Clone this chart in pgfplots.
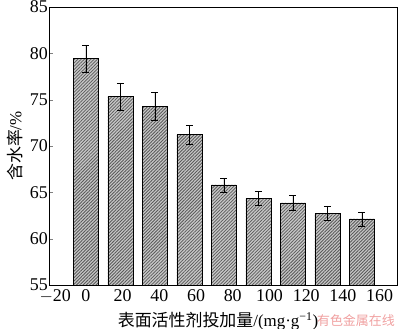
\documentclass[border=0pt]{standalone}
\usepackage{pgfplots}
\pgfplotsset{compat=1.18}
\usepackage{fontspec}
\setmainfont{Liberation Serif}
\newfontfamily\cjk{Noto Sans CJK SC}
\usetikzlibrary{patterns.meta}
\begin{document}
\begin{tikzpicture}
\begin{axis}[
  scale only axis,
  width=348bp, height=278bp,
  xmin=-21.4, xmax=180.3,
  ymin=55, ymax=85,
  ytick={55,60,...,85},
  xtick={-17.8,0,21.28,42.55,63.83,85.1,106.4,127.7,148.9,170.2},
  xticklabels={$-$20,0,20,40,60,80,100,120,140,160},
  x tick style={draw=none},
  ytick pos=left,
  tick align=inside,
  major tick length=4bp,
  tick label style={font=\fontsize{18}{18}\selectfont, inner xsep=1bp, inner ysep=0bp},
  xticklabel style={yshift=-4bp},
  /pgf/number format/assume math mode=true,
  xlabel={\fontsize{17}{20}\selectfont{\cjk 表面活性剂投加量}/(mg·g\textsuperscript{−1})},
  ylabel={\fontsize{17}{20}\selectfont{\cjk 含水率}/\%},
  xlabel style={at={(rel axis cs:0.5,0)}, anchor=center, yshift=-36bp, xshift=-5bp},
  ylabel style={inner sep=1bp, yshift=5bp},
  axis line style={line width=0.9pt},
]
\coordinate (sw) at (rel axis cs:0,0);
\coordinate (ne) at (rel axis cs:1,1);
\addplot[ybar, bar width=14.5, bar shift=0pt, draw=black, line width=0.7pt,
  fill=black!22, postaction={pattern={Lines[angle=45, distance=2.3bp, line width=0.8bp]}, pattern color=black!65},
  error bars/.cd, y dir=both, y explicit,
  error bar style={line width=0.6pt, black},
  error mark options={rotate=90, mark size=3.5bp, line width=0.6pt, black}]
coordinates {
(0,79.42) +- (0,1.5)
(20,75.32) +- (0,1.5)
(40,74.25) +- (0,1.5)
(60,71.23) +- (0,1.0)
(80,65.80) +- (0,0.75)
(100,64.35) +- (0,0.75)
(120,63.86) +- (0,0.77)
(140,62.74) +- (0,0.8)
(160,62.13) +- (0,0.75)
};
\end{axis}
\node[anchor=south east, text={rgb,255:red,240;green,160;blue,160}, font=\cjk\fontsize{13}{13}\selectfont, inner sep=0pt] at ([shift={(-2bp,-42bp)}]sw -| ne) {有色金属在线};
\pgfresetboundingbox
\path ([shift={(-49bp,-44bp)}]sw) rectangle ([shift={(3bp,7bp)}]ne);
\end{tikzpicture}
\end{document}
